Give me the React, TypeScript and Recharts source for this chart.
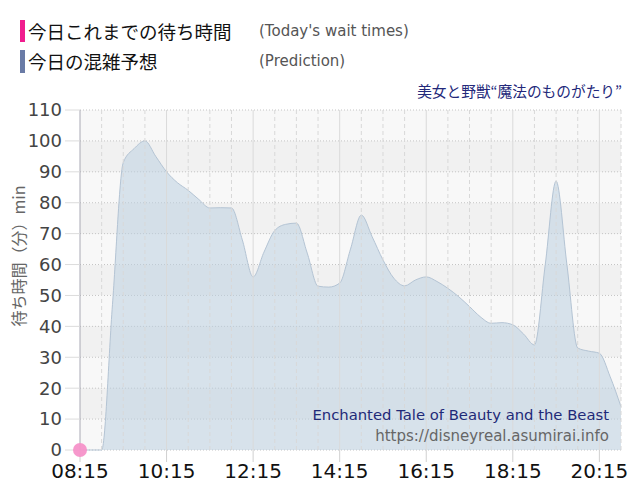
import {
	ComposedChart,
	Area,
	Line,
	XAxis,
	YAxis,
	CartesianGrid,
	ReferenceLine,
} from "recharts";

document.body.style.margin = "0";

const times = [
	"08:15", "08:30", "08:45", "09:00", "09:15", "09:30", "09:45", "10:00",
	"10:15", "10:30", "10:45", "11:00", "11:15", "11:30", "11:45", "12:00",
	"12:15", "12:30", "12:45", "13:00", "13:15", "13:30", "13:45", "14:00",
	"14:15", "14:30", "14:45", "15:00", "15:15", "15:30", "15:45", "16:00",
	"16:15", "16:30", "16:45", "17:00", "17:15", "17:30", "17:45", "18:00",
	"18:15", "18:30", "18:45", "19:00", "19:15", "19:30", "19:45", "20:00",
	"20:15", "20:30", "20:45",
];

const prediction = [
	0, 0, 0, 47, 93, 97.5, 100, 95,
	90, 86.5, 84, 81, 78.3, 78.4, 78.3, 68,
	56, 64, 71, 73, 73.4, 63.7, 53, 52.7,
	54, 65, 76, 69, 61.5, 55.6, 53.1, 55,
	56, 54.5, 52.3, 49.6, 46.4, 43.1, 41, 41.2,
	40.5, 37.5, 34, 60, 87, 60, 33, 32,
	31.3, 23.7, 14,
];

const today = [0];

const xTickLabels = ["08:15", "10:15", "12:15", "14:15", "16:15", "18:15", "20:15"];
const yTicks = [0, 10, 20, 30, 40, 50, 60, 70, 80, 90, 100, 110];

const toMin = (t: string) => {
	const [h, m] = t.split(":").map(Number);
	return h * 60 + m;
};
const fmt = (v: number) =>
	`${String(Math.floor(v / 60)).padStart(2, "0")}:${String(v % 60).padStart(2, "0")}`;

const data = times.map((t, i) => ({
	t: toMin(t),
	prediction: prediction[i],
	today: today[i],
}));

const majorTicks = xTickLabels.map(toMin);
const halfHours = times
	.filter((_, i) => i % 2 === 0)
	.map(toMin)
	.filter((m) => m !== majorTicks[0] && majorTicks.indexOf(m) === -1);

const latin = '"DejaVu Sans", "Noto Sans CJK JP", sans-serif';
const jp = '"Noto Sans CJK JP", sans-serif';

export default function App() {
	return (
		<div style={{ position: "relative", width: 640, height: 500, background: "#fff" }}>
			<ComposedChart
				width={640}
				height={500}
				data={data}
				margin={{ top: 110, right: 19, bottom: 10, left: 0 }}
			>
				<CartesianGrid
					vertical={false}
					stroke="#c4c4c4"
					strokeDasharray="1 2"
					horizontalFill={["#f8f8f8", "#f1f1f1"]}
					fillOpacity={1}
				/>
				{halfHours.map((m) => (
					<ReferenceLine
						key={m}
						x={m}
						stroke="#d8d8d8"
						strokeDasharray="4 3"
					/>
				))}
				{majorTicks.slice(1).map((m) => (
					<ReferenceLine key={m} x={m} stroke="#dadada" />
				))}
				<XAxis
					dataKey="t"
					type="number"
					domain={[495, 1245]}
					ticks={majorTicks}
					tickFormatter={fmt}
					axisLine={false}
					tickLine={{ stroke: "#d0d0d0" }}
					tickSize={12}
					tickMargin={2}
					height={40}
					tick={{ fill: "#111", fontSize: 20, fontFamily: latin }}
				/>
				<YAxis
					domain={[0, 110]}
					ticks={yTicks}
					width={80}
					tickSize={15}
					tickMargin={3}
					axisLine={{ stroke: "#a9a9b4" }}
					tickLine={{ stroke: "#dcdcdc" }}
					tick={{ fill: "#444", fontSize: 18, fontFamily: latin }}
				/>
				<Area
					type="monotone"
					dataKey="prediction"
					stroke="#b4c4d4"
					strokeWidth={1}
					fill="#bccfe0"
					fillOpacity={0.55}
					dot={false}
					activeDot={false}
					isAnimationActive={false}
				/>
				<Line
					dataKey="today"
					stroke="#f01d8e"
					dot={{ r: 7, fill: "#f592c9", stroke: "none", fillOpacity: 0.95 }}
					activeDot={false}
					isAnimationActive={false}
				/>
			</ComposedChart>

			<div
				style={{
					position: "absolute",
					left: 17.5,
					top: 256,
					transform: "translate(-50%, -50%) rotate(-90deg)",
					whiteSpace: "nowrap",
					fontFamily: jp,
					fontSize: 16,
					color: "#666",
				}}
			>
				待ち時間（分）min
			</div>

			<div style={{ position: "absolute", left: 20, top: 20, width: 5, height: 22, background: "#f01d8e" }} />
			<div style={{ position: "absolute", left: 28, top: 19, fontFamily: jp, fontSize: 18.5, lineHeight: "24px", color: "#111" }}>
				今日これまでの待ち時間
			</div>
			<div style={{ position: "absolute", left: 259, top: 21, fontFamily: latin, fontSize: 15, lineHeight: "20px", color: "#555" }}>
				(Today's wait times)
			</div>
			<div style={{ position: "absolute", left: 20, top: 50, width: 5, height: 23, background: "#6a7ba6" }} />
			<div style={{ position: "absolute", left: 28, top: 49, fontFamily: jp, fontSize: 18.5, lineHeight: "24px", color: "#111" }}>
				今日の混雑予想
			</div>
			<div style={{ position: "absolute", left: 259, top: 51, fontFamily: latin, fontSize: 15, lineHeight: "20px", color: "#555" }}>
				(Prediction)
			</div>

			<div style={{ position: "absolute", right: 18, top: 81, fontFamily: jp, fontSize: 14.7, lineHeight: "20px", color: "#23287a", whiteSpace: "nowrap" }}>
				美女と野獣“魔法のものがたり”
			</div>

			<div style={{ position: "absolute", right: 31, top: 405, fontFamily: latin, fontSize: 14.8, lineHeight: "20px", color: "#1f2a78", whiteSpace: "nowrap" }}>
				Enchanted Tale of Beauty and the Beast
			</div>
			<div style={{ position: "absolute", right: 31, top: 426, fontFamily: latin, fontSize: 15, lineHeight: "20px", color: "#666", whiteSpace: "nowrap" }}>
				https://disneyreal.asumirai.info
			</div>
		</div>
	);
}
